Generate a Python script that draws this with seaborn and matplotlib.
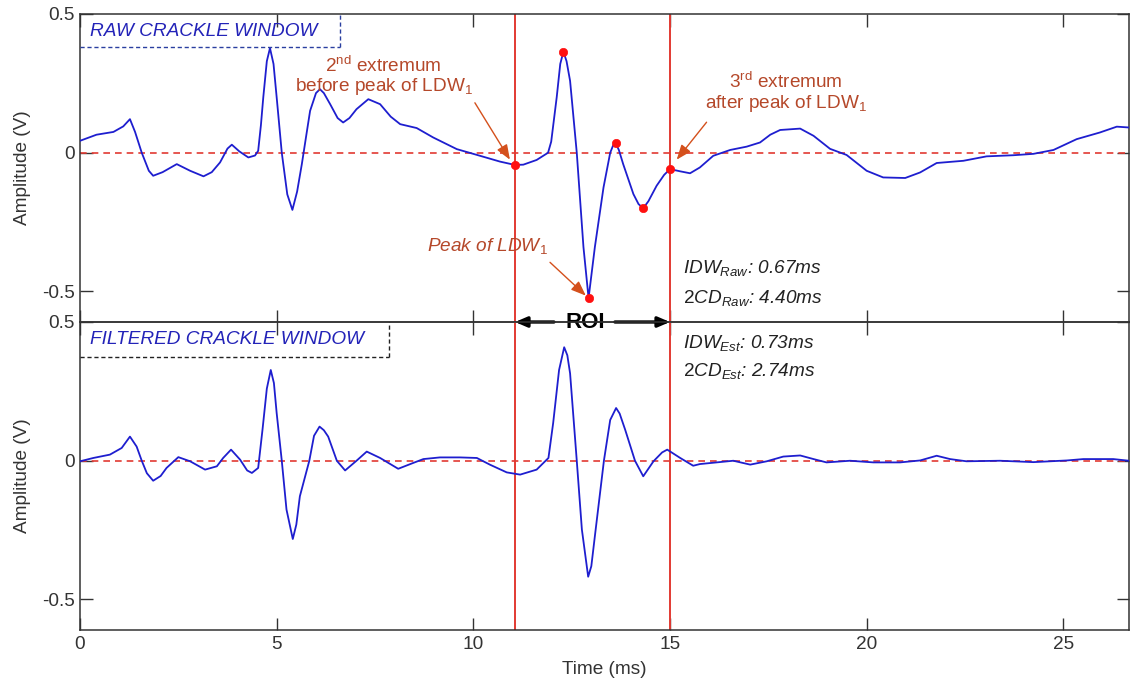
import numpy as np
import pandas as pd
import matplotlib
matplotlib.use("Agg")
import matplotlib.pyplot as plt
import seaborn as sns

# ---------------- data ----------------
raw_t = [0.00, 0.42, 0.85, 1.10, 1.27, 1.40, 1.57, 1.75, 1.86, 2.10, 2.46, 2.80, 3.14, 3.35,
         3.56, 3.75, 3.86, 4.05, 4.28, 4.45, 4.53, 4.60, 4.66, 4.75, 4.83, 4.92, 5.00, 5.13,
         5.27, 5.40, 5.52, 5.64, 5.75, 5.85, 6.00, 6.10, 6.20, 6.36, 6.55, 6.69, 6.85, 7.03,
         7.33, 7.63, 7.90, 8.14, 8.56, 8.98, 9.58, 10.17, 10.68, 11.06, 11.27, 11.61, 11.90,
         11.98, 12.05, 12.12, 12.21, 12.29, 12.37, 12.46, 12.63, 12.80, 12.93, 13.09, 13.31,
         13.48, 13.55, 13.62, 13.70, 13.81, 14.07, 14.20, 14.32, 14.45, 14.66, 14.85, 15.00,
         15.26, 15.51, 15.76, 16.10, 16.53, 16.95, 17.29, 17.55, 17.80, 18.31, 18.65, 19.07,
         19.49, 20.00, 20.42, 20.98, 21.36, 21.78, 22.46, 23.05, 23.73, 24.24, 24.75, 25.34,
         25.93, 26.36, 26.67]
raw_v = [0.043, 0.065, 0.075, 0.095, 0.121, 0.075, 0.000, -0.065, -0.083, -0.070, -0.041,
         -0.065, -0.085, -0.070, -0.035, 0.015, 0.029, 0.005, -0.017, -0.010, 0.007, 0.100,
         0.200, 0.330, 0.377, 0.320, 0.200, 0.000, -0.150, -0.206, -0.140, -0.041, 0.060,
         0.151, 0.215, 0.229, 0.215, 0.175, 0.125, 0.109, 0.125, 0.157, 0.193, 0.175, 0.130,
         0.103, 0.089, 0.055, 0.013, -0.011, -0.032, -0.044, -0.043, -0.026, 0.000, 0.040,
         0.120, 0.200, 0.320, 0.364, 0.330, 0.259, 0.000, -0.340, -0.524, -0.340, -0.125,
         0.000, 0.025, 0.034, 0.010, -0.041, -0.149, -0.185, -0.200, -0.175, -0.119, -0.080,
         -0.059, -0.067, -0.074, -0.053, -0.011, 0.010, 0.022, 0.037, 0.065, 0.082, 0.087,
         0.061, 0.014, -0.008, -0.065, -0.089, -0.091, -0.071, -0.037, -0.029, -0.013,
         -0.009, -0.004, 0.010, 0.049, 0.073, 0.094, 0.091]

filt_t = [0.00, 0.34, 0.76, 1.06, 1.27, 1.44, 1.57, 1.70, 1.86, 2.05, 2.20, 2.50, 2.80, 3.18,
          3.48, 3.64, 3.84, 4.07, 4.25, 4.37, 4.53, 4.64, 4.75, 4.85, 4.93, 5.00, 5.13, 5.25,
          5.41, 5.50, 5.59, 5.83, 5.95, 6.09, 6.20, 6.31, 6.53, 6.74, 7.03, 7.29, 7.63, 8.09,
          8.47, 8.73, 9.15, 9.66, 10.09, 10.42, 10.85, 11.19, 11.61, 11.91, 12.03, 12.18,
          12.31, 12.39, 12.46, 12.63, 12.76, 12.92, 13.00, 13.09, 13.32, 13.48, 13.63, 13.72,
          13.86, 14.11, 14.32, 14.58, 14.80, 14.93, 15.26, 15.59, 15.76, 16.61, 17.04, 17.46,
          17.88, 18.31, 18.65, 18.98, 19.58, 20.17, 20.85, 21.36, 21.78, 22.12, 22.54, 23.39,
          24.24, 25.09, 25.51, 26.27, 26.67]
filt_v = [-0.002, 0.010, 0.022, 0.046, 0.087, 0.051, 0.000, -0.045, -0.072, -0.055, -0.026,
          0.013, -0.002, -0.032, -0.020, 0.010, 0.040, 0.004, -0.035, -0.044, -0.026, 0.112,
          0.260, 0.327, 0.280, 0.172, 0.000, -0.176, -0.282, -0.230, -0.128, 0.000, 0.090,
          0.123, 0.110, 0.087, 0.000, -0.035, 0.000, 0.033, 0.010, -0.029, -0.008, 0.006,
          0.012, 0.012, 0.010, -0.014, -0.042, -0.050, -0.032, 0.010, 0.136, 0.327, 0.409,
          0.380, 0.315, 0.000, -0.248, -0.418, -0.380, -0.272, 0.000, 0.147, 0.190, 0.170,
          0.112, 0.000, -0.056, -0.002, 0.030, 0.040, 0.010, -0.018, -0.012, 0.000, -0.014,
          -0.002, 0.015, 0.019, 0.006, -0.006, 0.000, -0.006, -0.006, 0.001, 0.018, 0.006,
          -0.002, 0.000, -0.005, 0.001, 0.006, 0.006, 0.000]

extrema_t = [11.06, 12.29, 12.93, 13.62, 14.32, 15.00]
extrema_v = [-0.044, 0.364, -0.524, 0.034, -0.200, -0.059]

roi_bounds = [11.06, 15.00]
x_ticks = [0, 5, 10, 15, 20, 25]
y_ticks = [-0.5, 0, 0.5]
x_lim = (0, 26.67)
y_lim = (-0.61, 0.5)

raw_df = pd.DataFrame({"Time (ms)": raw_t, "Amplitude (V)": raw_v})
filt_df = pd.DataFrame({"Time (ms)": filt_t, "Amplitude (V)": filt_v})
ext_df = pd.DataFrame({"Time (ms)": extrema_t, "Amplitude (V)": extrema_v})

# ---------------- style ----------------
sns.set_style("ticks")
plt.rcParams["font.family"] = ["Liberation Sans", "DejaVu Sans"]
plt.rcParams["mathtext.fontset"] = "custom"
plt.rcParams["mathtext.rm"] = "Liberation Sans"
plt.rcParams["mathtext.it"] = "Liberation Sans:italic"
plt.rcParams["mathtext.bf"] = "Liberation Sans:bold"
plt.rcParams["axes.unicode_minus"] = False

BLUE = "#1E1ECF"
RED = "#E23A32"
ANN = "#B5482A"
HEAD = "#D4501C"
FS = 13.7

fig = plt.figure(figsize=(11.32, 6.84), dpi=100)
ax1 = fig.add_axes([80 / 1132, 1 - 322 / 684, 1049 / 1132, 308 / 684])
ax2 = fig.add_axes([80 / 1132, 1 - 630 / 684, 1049 / 1132, 308 / 684])

for ax, df in ((ax1, raw_df), (ax2, filt_df)):
    ax.axhline(0, color=RED, lw=1.2, ls=(0, (4, 3)), zorder=1)
    sns.lineplot(data=df, x="Time (ms)", y="Amplitude (V)", ax=ax, color=BLUE, lw=1.3,
                 sort=False, estimator=None, zorder=3)
    for b in roi_bounds:
        ax.axvline(b, color=RED, lw=1.4, zorder=2)
    ax.set_xlim(*x_lim)
    ax.set_ylim(*y_lim)
    ax.set_xticks(x_ticks)
    ax.set_yticks(y_ticks)
    ax.set_yticklabels(["-0.5", "0", "0.5"])
    ax.tick_params(direction="in", length=9, width=1, top=True, right=True,
                   labelsize=FS, colors="#333333", labelcolor="#333333", pad=4)
    for s in ax.spines.values():
        s.set_color("#333333")
        s.set_linewidth(1.1)
    ax.set_ylabel("Amplitude (V)", fontsize=FS, color="#333333", labelpad=8)
    ax.patch.set_alpha(0)

ax1.set_xlabel("")
ax1.set_xticklabels([])
ax2.set_xticklabels([str(v) for v in x_ticks])
ax2.set_xlabel("Time (ms)", fontsize=FS, color="#333333", labelpad=6)

sns.scatterplot(data=ext_df, x="Time (ms)", y="Amplitude (V)", ax=ax1, color="#FF1010",
                s=36, edgecolor="#FF1010", linewidth=0.5, zorder=5, legend=False)
ax1.set_xlabel("")

# window label boxes
ax1.plot([0, 6.61], [0.381, 0.381], color="#2A3FA0", lw=1, ls=(0, (3, 2)), zorder=4)
ax1.plot([6.61, 6.61], [0.381, 0.5], color="#2A3FA0", lw=1, ls=(0, (3, 2)), zorder=4)
ax1.text(0.25, 0.436, "RAW CRACKLE WINDOW", color="#2323B8", fontsize=FS,
         style="italic", va="center", ha="left")
ax2.plot([0, 7.86], [0.375, 0.375], color="#222222", lw=1, ls=(0, (3, 2)), zorder=4)
ax2.plot([7.86, 7.86], [0.375, 0.5], color="#222222", lw=1, ls=(0, (3, 2)), zorder=4)
ax2.text(0.25, 0.438, "FILTERED CRACKLE WINDOW", color="#2323B8", fontsize=FS,
         style="italic", va="center", ha="left")

# annotations with arrows
arrow_kw = dict(arrowstyle="-|>,head_length=0.9,head_width=0.35", color=HEAD, lw=1.0,
                shrinkA=0, shrinkB=0)
ax1.annotate("", xy=(10.93, -0.025), xytext=(10.04, 0.18), arrowprops=arrow_kw, zorder=6)
ax1.annotate("", xy=(15.17, -0.025), xytext=(15.93, 0.11), arrowprops=arrow_kw, zorder=6)
ax1.annotate("", xy=(12.86, -0.515), xytext=(11.95, -0.395), arrowprops=arrow_kw, zorder=6)

ax1.text(7.72, 0.275, "2$^{\\mathrm{nd}}$ extremum\nbefore peak of LDW$_{\\mathrm{1}}$",
         color=ANN, fontsize=FS, ha="center", va="center", linespacing=1.05)
ax1.text(17.95, 0.215, "3$^{\\mathrm{rd}}$ extremum\nafter peak of LDW$_{\\mathrm{1}}$",
         color=ANN, fontsize=FS, ha="center", va="center", linespacing=1.05)
ax1.text(10.35, -0.335, "Peak of LDW$_1$", color=ANN, fontsize=FS, style="italic",
         ha="center", va="center")

# measurement texts
ax1.text(15.33, -0.415, "$IDW_{Raw}$: 0.67ms", fontsize=FS, style="italic",
         color="#222222", ha="left", va="center", clip_on=False)
ax1.text(15.33, -0.525, "$2CD_{Raw}$: 4.40ms", fontsize=FS, style="italic",
         color="#222222", ha="left", va="center", clip_on=False)
ax2.text(15.33, 0.425, "$IDW_{Est}$: 0.73ms", fontsize=FS, style="italic",
         color="#222222", ha="left", va="center", clip_on=False)
ax2.text(15.33, 0.322, "$2CD_{Est}$: 2.74ms", fontsize=FS, style="italic",
         color="#222222", ha="left", va="center", clip_on=False)

# ROI double arrow on the boundary
roi_kw = dict(arrowstyle="-|>,head_length=0.7,head_width=0.3", color="black", lw=2.4,
              shrinkA=0, shrinkB=0)
ax1.annotate("", xy=(roi_bounds[0], y_lim[0]), xytext=(12.05, y_lim[0]),
             arrowprops=roi_kw, annotation_clip=False, zorder=7)
ax1.annotate("", xy=(roi_bounds[1], y_lim[0]), xytext=(13.6, y_lim[0]),
             arrowprops=roi_kw, annotation_clip=False, zorder=7)
ax1.text(12.84, y_lim[0], "ROI", fontsize=16, fontweight="bold", ha="center",
         va="center", color="black", clip_on=False, zorder=8)

fig.savefig("out.png", dpi=100, facecolor="white")
